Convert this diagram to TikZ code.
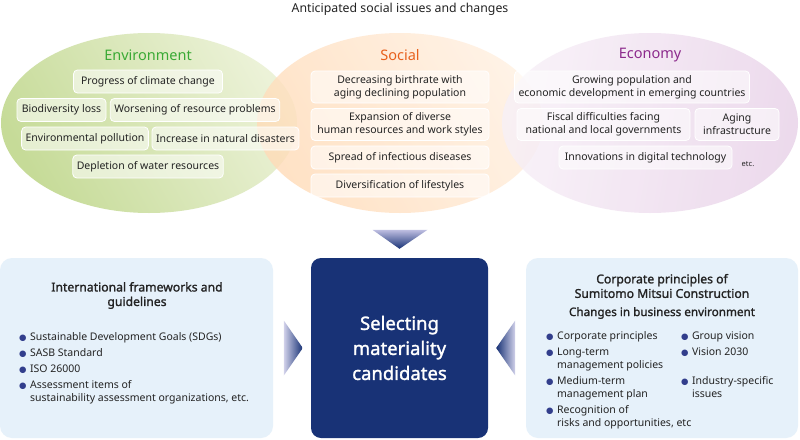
\documentclass[tikz,border=0pt]{standalone}
\usepackage{fontspec}
\setmainfont{Noto Sans}
\newfontfamily\dotfont{DejaVu Sans}
\newfontfamily\semibold[FakeBold=1.5]{Noto Sans}
\usetikzlibrary{calc}
\definecolor{navy}{RGB}{24,50,118}
\definecolor{sky}{RGB}{230,241,250}
\definecolor{lavender}{RGB}{190,190,225}
\definecolor{leafgreen}{RGB}{58,170,53}
\definecolor{tangerine}{RGB}{232,96,28}
\definecolor{plum}{RGB}{140,42,140}
\definecolor{ink}{RGB}{35,35,35}
\definecolor{dot}{RGB}{50,62,140}
\definecolor{moss}{RGB}{198,219,152}
\definecolor{mossy}{RGB}{236,242,216}
\tikzset{
  issue/.style={draw=white,line width=0.8pt,fill=white,fill opacity=0.55,text opacity=1,
    rounded corners=4pt,inner xsep=4pt,inner ysep=0pt,minimum height=23pt,align=center,
    text=ink,font=\fontsize{10.5}{13}\selectfont},
  issue2/.style={issue,minimum height=32pt},
  realm/.style={text=#1,font=\fontsize{14.5}{16}\selectfont},
  panel/.style={fill=sky,rounded corners=12pt,minimum width=273pt,minimum height=180pt},
  core/.style={fill=navy,rounded corners=10pt,minimum width=177pt,minimum height=180pt,
    text=white,align=center,font=\semibold\fontsize{18.5}{25}\selectfont},
  heading/.style={align=center,text=ink,font=\semibold\fontsize{12.2}{14.5}\selectfont},
  bullets/.style={anchor=north west,inner sep=0pt,text=ink,font=\fontsize{10.5}{13}\selectfont},
}
\newcommand{\dotitem}{{\dotfont\color{dot}\fontsize{8.5}{8.5}\selectfont ●}}

\begin{document}
\begin{tikzpicture}[x=1pt,y=-1pt]
  \useasboundingbox (0,0) rectangle (800,439);
  \fill[white] (0,0) rectangle (800,439);
  % issue areas
  \shade[left color=moss,right color=mossy,shading angle=120]
    (149,123) ellipse [x radius=148,y radius=90];
  \shade[left color=orange!28,right color=orange!12,shading angle=120,opacity=0.8]
    (400,123) ellipse [x radius=143,y radius=90];
  \shade[left color=violet!6,right color=violet!18,shading angle=80,opacity=0.8]
    (650,123) ellipse [x radius=148,y radius=90];

  \node[font=\fontsize{12.3}{14}\selectfont,text=ink] (title) at (400,9) {Anticipated social issues and changes};

  \node[realm=leafgreen] (env) at (148,55) {Environment};
  \node[issue,minimum width=149pt] (climate) at (148,81.5) {Progress of climate change};
  \node[issue,minimum width=89pt] (bio) at (61.5,110) {Biodiversity loss};
  \node[issue,minimum width=168pt] (resource) at (195,110) {Worsening of resource problems};
  \node[issue,minimum width=126pt] (pollution) at (85,138.5) {Environmental pollution};
  \node[issue,minimum width=145pt] (disaster) at (225.5,138.5) {Increase in natural disasters};
  \node[issue,minimum width=149pt] (water) at (148,166.5) {Depletion of water resources};

  \node[realm=tangerine] (soc) at (400,55) {Social};
  \node[issue2,minimum width=178pt] (birth) at (400,87) {Decreasing birthrate with\\aging declining population};
  \node[issue2,minimum width=178pt] (diverse) at (400,124.5) {Expansion of diverse\\human resources and work styles};
  \node[issue,minimum width=178pt] (infect) at (400,157.5) {Spread of infectious diseases};
  \node[issue,minimum width=178pt] (life) at (400,185.5) {Diversification of lifestyles};

  \node[realm=plum] (eco) at (650,55) {Economy};
  \node[issue2,minimum width=230pt] (growth) at (632,87) {Growing population and\\economic development in emerging countries};
  \node[issue2,minimum width=173pt] (fiscal) at (603.5,124.5) {Fiscal difficulties facing\\national and local governments};
  \node[issue2,minimum width=84pt] (aging) at (737,124.5) {Aging\\infrastructure};
  \node[issue,minimum width=173pt] (digital) at (645.5,157.5) {Innovations in digital technology};
  \node[text=ink,font=\fontsize{7.5}{8}\selectfont] (etc) at (748,164) {etc.};

  % inputs
  \node[panel] (intl) at (136.5,348) {};
  \node[panel,minimum width=272pt] (corp) at (662,348) {};
  \node[core] (select) at (399.5,348) {Selecting\\materiality\\candidates};

  \node[heading] (intlhead) at (137,295.5) {International frameworks and\\guidelines};
  \node[bullets] (intllist) at (19,331) {\begin{tabular}{@{}l@{\hspace{3.5pt}}l@{}}
    \dotitem & Sustainable Development Goals (SDGs)\\[3pt]
    \dotitem & SASB Standard\\[3pt]
    \dotitem & ISO 26000\\[3pt]
    \dotitem & Assessment items of\\
             & sustainability assessment organizations, etc.
  \end{tabular}};

  \node[heading] (corphead) at (662,286) {Corporate principles of\\Sumitomo Mitsui Construction};
  \node[heading,font=\semibold\fontsize{11.7}{14}\selectfont] (corpsub) at (662,313) {Changes in business environment};
  \node[bullets] (corplist) at (546,330) {\begin{tabular}{@{}l@{\hspace{3.5pt}}p{124pt}@{}l@{\hspace{3.5pt}}l@{}}
    \dotitem & Corporate principles & \dotitem & Group vision\\[3pt]
    \dotitem & Long-term & \dotitem & Vision 2030\\
             & management policies & & \\[3pt]
    \dotitem & Medium-term & \dotitem & Industry-specific\\
             & management plan & & issues\\[3pt]
    \dotitem & Recognition of & & \\
             & \multicolumn{3}{@{}l@{}}{risks and opportunities, etc}
  \end{tabular}};

  \shade[top color=lavender,bottom color=navy]
    ($(select.north)+(-27,-28)$) -- ($(select.north)+(28,-28)$) -- ($(select.north)+(0,-9)$) -- cycle;
  \shade[left color=lavender!70,right color=navy]
    ($(select.west)+(-27,-27.5)$) -- ($(select.west)+(-27,27.5)$) -- ($(select.west)+(-8,0)$) -- cycle;
  \shade[left color=navy,right color=lavender!70]
    ($(select.east)+(27,-27.5)$) -- ($(select.east)+(27,27.5)$) -- ($(select.east)+(8,0)$) -- cycle;
\end{tikzpicture}
\end{document}
